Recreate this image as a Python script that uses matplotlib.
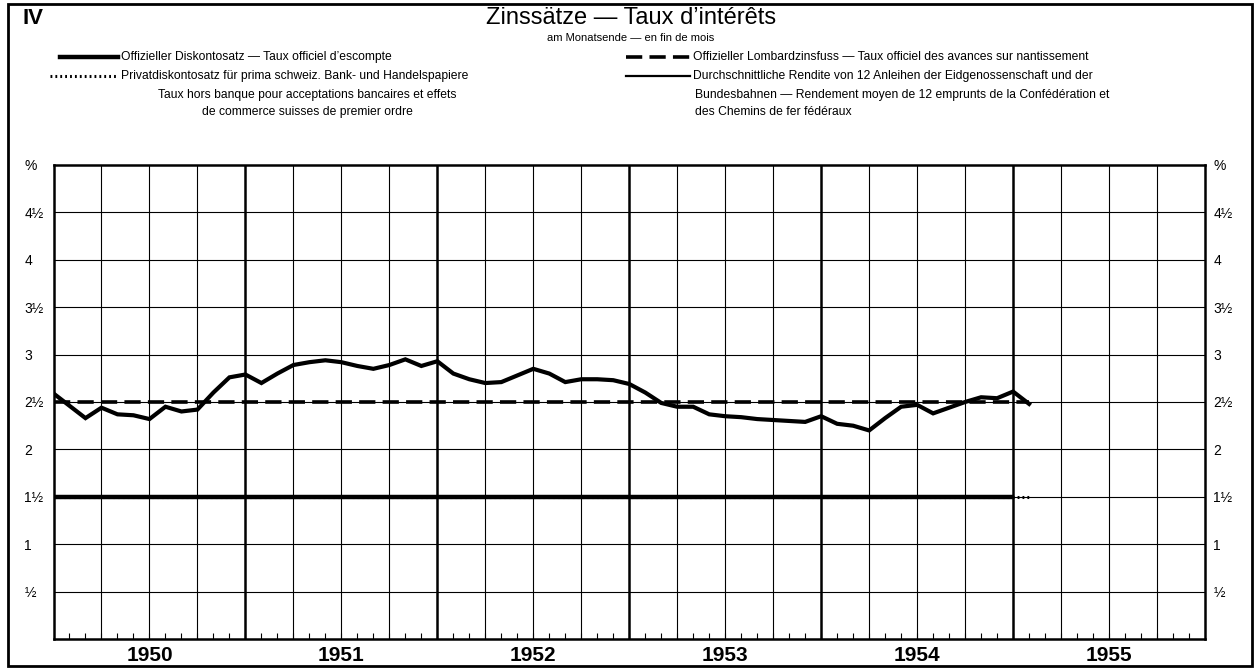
import numpy as np
import matplotlib.pyplot as plt
import matplotlib.transforms as mtransforms
from matplotlib.lines import Line2D
from matplotlib.patches import Rectangle

# Schrift: Grotesk wie im Original
plt.rcParams['font.family'] = ['Liberation Sans', 'DejaVu Sans']

# Daten (Monatsende, Index 0 = Dez. 1949)
jahre = ['1950', '1951', '1952', '1953', '1954', '1955']
rendite = [2.59, 2.46, 2.33, 2.44, 2.37, 2.36, 2.32, 2.45, 2.40, 2.42,
           2.60, 2.76, 2.79, 2.70, 2.80, 2.89, 2.92, 2.94, 2.92, 2.88,
           2.85, 2.89, 2.95, 2.88, 2.93, 2.80, 2.74, 2.70, 2.71, 2.78,
           2.85, 2.80, 2.71, 2.74, 2.74, 2.73, 2.69, 2.60, 2.49, 2.45,
           2.45, 2.37, 2.35, 2.34, 2.32, 2.31, 2.30, 2.29, 2.35, 2.27,
           2.25, 2.20, 2.33, 2.45, 2.47, 2.38, 2.44, 2.50, 2.55, 2.54,
           2.61, 2.48]
diskont_monate = [0, 60]
diskont = [1.5, 1.5]
privat_monate = [0, 61]
privat = [1.5, 1.5]
lombard_monate = [0, 61]
lombard = [2.5, 2.5]

y_ticks = [0.5, 1, 1.5, 2, 2.5, 3, 3.5, 4, 4.5, 5]
y_labels = ['½', '1', '1½', '2', '2½', '3', '3½', '4', '4½', '%']

W, H = 1260, 669
def fx(px):
    return px / W
def fy(py):
    return 1 - py / H

fig = plt.figure(figsize=(12.6, 6.69), dpi=100)
ax = fig.add_axes([fx(53.5), fy(639), (1205 - 53.5) / W, (639 - 165) / H])
ax.set_xlim(0, 72)
ax.set_ylim(0, 5)

# Raster
ax.hlines(np.arange(0.5, 5, 0.5), 0, 72, color='black', lw=0.8, zorder=1)
quartale = [q for q in range(3, 72, 3) if q % 12 != 0]
ax.vlines(quartale, 0, 5, color='black', lw=0.8, zorder=1)
ax.vlines(range(12, 72, 12), 0, 5, color='black', lw=1.8, zorder=1)
for s in ax.spines.values():
    s.set_linewidth(1.8)

# Kurven
monate = np.arange(len(rendite))
ax.plot(diskont_monate, diskont, color='black', lw=3.2, solid_capstyle='butt', zorder=3)
ax.plot(privat_monate, privat, color='black', lw=2.2, ls=(0, (0.6, 1.0)), zorder=3)
ax.plot(lombard_monate, lombard, color='black', lw=2.6, ls=(0, (4.5, 2.0)), zorder=3)
ax.plot(monate, rendite, color='black', lw=3.0, solid_joinstyle='miter', zorder=4)

# x-Achse: Monatsstriche, Jahreszahlen
ax.set_xticks(range(1, 72))
ax.set_xticklabels([])
ax.tick_params(axis='x', which='major', direction='in', length=4, width=0.8,
               bottom=True, top=False)
trans = mtransforms.blended_transform_factory(ax.transData, ax.transAxes)
for i, j in enumerate(jahre):
    ax.text(6 + 12 * i, -0.014, j, transform=trans, ha='center', va='top',
            fontsize=15, fontweight='bold')

# y-Achse links und rechts
ax.set_yticks(y_ticks)
ax.set_yticklabels(y_labels, fontsize=10)
ax.tick_params(axis='y', length=0, pad=21)
for lbl in ax.get_yticklabels():
    lbl.set_horizontalalignment('left')
ax2 = ax.twinx()
ax2.set_ylim(0, 5)
ax2.set_yticks(y_ticks)
ax2.set_yticklabels(y_labels, fontsize=10)
ax2.tick_params(axis='y', length=0, pad=6)
for s in ax2.spines.values():
    s.set_visible(False)

# Kopf
fig.text(fx(22), fy(18), 'IV', fontsize=16, fontweight='bold', va='center')
fig.text(fx(631), fy(18), 'Zinssätze — Taux d\u2019intérêts', fontsize=17,
         ha='center', va='center')
fig.text(fx(631), fy(38), 'am Monatsende — en fin de mois', fontsize=8,
         ha='center', va='center')

# Legende
fs = 8.7
fig.add_artist(Line2D([fx(60), fx(118)], [fy(57), fy(57)], color='black', lw=3.2,
                      transform=fig.transFigure))
fig.text(fx(121), fy(57), 'Offizieller Diskontosatz — Taux officiel d\u2019escompte',
         fontsize=fs, va='center')
fig.add_artist(Line2D([fx(50), fx(118)], [fy(76), fy(76)], color='black', lw=2.2,
                      ls=(0, (0.6, 1.0)), transform=fig.transFigure))
fig.text(fx(121), fy(76), 'Privatdiskontosatz für prima schweiz. Bank- und Handelspapiere',
         fontsize=fs, va='center')
fig.text(fx(307), fy(95), 'Taux hors banque pour acceptations bancaires et effets',
         fontsize=fs, ha='center', va='center')
fig.text(fx(307), fy(112), 'de commerce suisses de premier ordre',
         fontsize=fs, ha='center', va='center')

fig.add_artist(Line2D([fx(626), fx(690)], [fy(57), fy(57)], color='black', lw=2.6,
                      ls=(0, (4.5, 2.0)), transform=fig.transFigure))
fig.text(fx(693), fy(57), 'Offizieller Lombardzinsfuss — Taux officiel des avances sur nantissement',
         fontsize=fs, va='center')
fig.add_artist(Line2D([fx(626), fx(690)], [fy(76), fy(76)], color='black', lw=1.6,
                      transform=fig.transFigure))
fig.text(fx(693), fy(76), 'Durchschnittliche Rendite von 12 Anleihen der Eidgenossenschaft und der',
         fontsize=fs, va='center')
fig.text(fx(695), fy(95), 'Bundesbahnen — Rendement moyen de 12 emprunts de la Confédération et',
         fontsize=fs, va='center')
fig.text(fx(695), fy(112), 'des Chemins de fer fédéraux', fontsize=fs, va='center')

# Rahmen
fig.add_artist(Rectangle((fx(8), fy(666)), (1252 - 8) / W, (666 - 4) / H, fill=False,
                         lw=2, edgecolor='black', transform=fig.transFigure))

fig.savefig('out.png', dpi=100)
